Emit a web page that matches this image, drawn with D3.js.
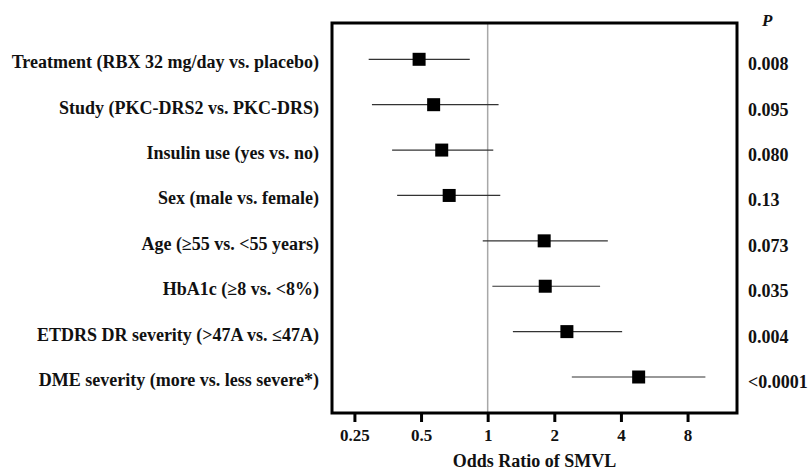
<!DOCTYPE html>
<html>
<head>
<meta charset="utf-8">
<script src="https://cdn.jsdelivr.net/npm/d3@7"></script>
<style>
  body { margin: 0; background: #fff; }
  text { font-family: "Liberation Serif", "Times New Roman", serif; font-weight: bold; fill: #111; }
</style>
</head>
<body>
<script>
// forest plot data
var labels = [
  "Treatment (RBX 32 mg/day vs. placebo)",
  "Study (PKC-DRS2 vs. PKC-DRS)",
  "Insulin use (yes vs. no)",
  "Sex (male vs. female)",
  "Age (\u226555 vs. <55 years)",
  "HbA1c (\u22658 vs. <8%)",
  "ETDRS DR severity (>47A vs. \u226447A)",
  "DME severity (more vs. less severe*)"
];
var oddsRatio = [0.49, 0.57, 0.62, 0.67, 1.80, 1.82, 2.28, 4.81];
var ciLow     = [0.29, 0.30, 0.37, 0.39, 0.95, 1.05, 1.30, 2.40];
var ciHigh    = [0.83, 1.12, 1.06, 1.14, 3.49, 3.22, 4.05, 9.63];
var pValues   = ["0.008", "0.095", "0.080", "0.13", "0.073", "0.035", "0.004", "<0.0001"];
var tickVals  = [0.25, 0.5, 1, 2, 4, 8];

var width = 808, height = 473;
var box = { left: 332, right: 737, top: 23, bottom: 413 };

var svg = d3.select("body").append("svg")
    .attr("width", width)
    .attr("height", height);

var x = d3.scaleLog().base(2)
    .domain([0.198, 13.38])
    .range([box.left, box.right]);

var y = d3.scalePoint()
    .domain(d3.range(labels.length))
    .range([59.3, 377])
    .padding(0);

// reference line at OR = 1
svg.append("line")
    .attr("x1", x(1)).attr("x2", x(1))
    .attr("y1", box.top).attr("y2", box.bottom)
    .attr("stroke", "#a8a8a8")
    .attr("stroke-width", 1.5);

var rows = svg.append("g").selectAll("g")
    .data(d3.range(labels.length))
    .enter().append("g");

// confidence intervals
rows.append("line")
    .attr("x1", function(i) { return x(ciLow[i]); })
    .attr("x2", function(i) { return x(ciHigh[i]); })
    .attr("y1", function(i) { return y(i); })
    .attr("y2", function(i) { return y(i); })
    .attr("stroke", "#333")
    .attr("stroke-width", 1.2);

// point estimates
var sq = 13;
rows.append("rect")
    .attr("x", function(i) { return x(oddsRatio[i]) - sq / 2; })
    .attr("y", function(i) { return y(i) - sq / 2; })
    .attr("width", sq)
    .attr("height", sq)
    .attr("fill", "#000");

// row labels
rows.append("text")
    .attr("x", 319)
    .attr("y", function(i) { return y(i) + 9; })
    .attr("text-anchor", "end")
    .style("font-size", "18px")
    .text(function(i) { return labels[i]; });

// P values
rows.append("text")
    .attr("x", 748)
    .attr("y", function(i) { return y(i) + 11; })
    .style("font-size", "18px")
    .text(function(i) { return pValues[i]; });

svg.append("text")
    .attr("x", 762)
    .attr("y", 26)
    .style("font-size", "17px")
    .style("font-style", "italic")
    .text("P");

// frame
svg.append("rect")
    .attr("x", box.left).attr("y", box.top)
    .attr("width", box.right - box.left)
    .attr("height", box.bottom - box.top)
    .attr("fill", "none")
    .attr("stroke", "#000")
    .attr("stroke-width", 3);

// x axis
var axis = svg.append("g")
    .attr("transform", "translate(0," + box.bottom + ")")
    .call(d3.axisBottom(x).tickValues(tickVals).tickSize(9).tickPadding(7)
        .tickFormat(function(d) { return String(d); }));
axis.select(".domain").remove();
axis.selectAll(".tick line").attr("stroke", "#000").attr("stroke-width", 3);
axis.selectAll(".tick text")
    .style("font-size", "17px")
    .style("font-family", "'Liberation Serif', serif")
    .attr("fill", "#111");

svg.append("text")
    .attr("x", (box.left + box.right) / 2)
    .attr("y", 467)
    .attr("text-anchor", "middle")
    .style("font-size", "18px")
    .text("Odds Ratio of SMVL");
</script>
</body>
</html>
